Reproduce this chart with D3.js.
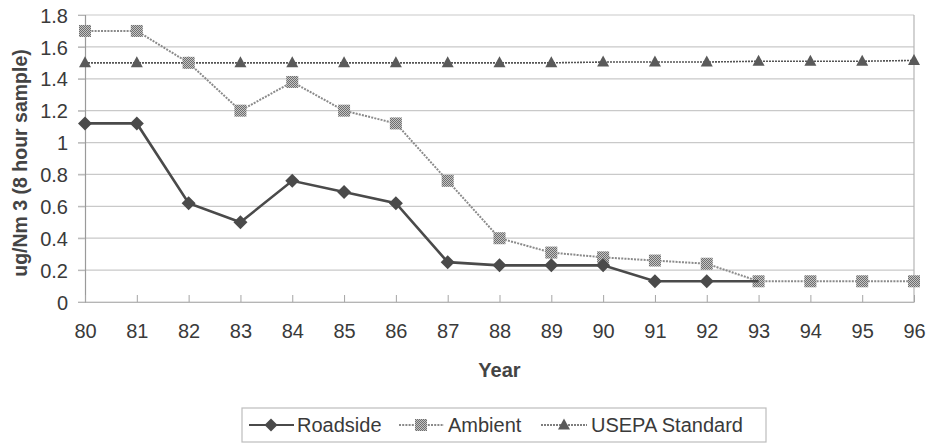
<!DOCTYPE html>
<html>
<head>
<meta charset="utf-8">
<script src="https://cdn.jsdelivr.net/npm/d3@7"></script>
<style>
  html, body { margin: 0; padding: 0; background: #fff; }
  svg { display: block; font-family: Arial, "Liberation Sans", sans-serif; }
</style>
</head>
<body>
<svg id="chart" width="932" height="443"></svg>
<script>
// Lead concentrations by year (ug/Nm3, 8 hour sample)
const years = [80, 81, 82, 83, 84, 85, 86, 87, 88, 89, 90, 91, 92, 93, 94, 95, 96];
const roadside = [1.12, 1.12, 0.62, 0.50, 0.76, 0.69, 0.62, 0.25, 0.23, 0.23, 0.23, 0.13, 0.13, 0.13];
const ambient = [1.70, 1.70, 1.50, 1.20, 1.38, 1.20, 1.12, 0.76, 0.40, 0.31, 0.28, 0.26, 0.24, 0.13, 0.13, 0.13, 0.13];
const usepa = [1.50, 1.50, 1.50, 1.50, 1.50, 1.50, 1.50, 1.50, 1.50, 1.50, 1.505, 1.505, 1.505, 1.51, 1.51, 1.51, 1.515];
const yTicks = [0, 0.2, 0.4, 0.6, 0.8, 1, 1.2, 1.4, 1.6, 1.8];
const seriesNames = ["Roadside", "Ambient", "USEPA Standard"];

const FONT = "Arial, 'Liberation Sans', sans-serif";
const svg = d3.select("#chart");
const margin = { left: 85, right: 18, top: 15, bottom: 141 };
const W = 932, H = 443;
const x0 = margin.left, x1 = W - margin.right;
const y0 = H - margin.bottom, y1 = margin.top;

const x = d3.scaleLinear().domain([80, 96]).range([x0, x1]);
const y = d3.scaleLinear().domain([0, 1.8]).range([y0, y1]);

// Checkered fill used by the Ambient markers
const defs = svg.append("defs");
const pat = defs.append("pattern").attr("id", "checker")
  .attr("width", 2).attr("height", 2).attr("patternUnits", "userSpaceOnUse");
pat.append("rect").attr("width", 2).attr("height", 2).attr("fill", "#c4c4c4");
pat.append("rect").attr("width", 1).attr("height", 1).attr("fill", "#6e6e6e");
pat.append("rect").attr("x", 1).attr("y", 1).attr("width", 1).attr("height", 1).attr("fill", "#6e6e6e");

// Horizontal gridlines (extend left as outside ticks)
svg.append("g").selectAll("line").data(yTicks).join("line")
  .attr("x1", x0 - 7).attr("x2", x1)
  .attr("y1", d => y(d)).attr("y2", d => y(d))
  .attr("stroke", "#c9c9c9").attr("stroke-width", 1.2);

// Plot frame: right border
svg.append("line").attr("x1", x1).attr("x2", x1).attr("y1", y1).attr("y2", y0)
  .attr("stroke", "#b5b5b5").attr("stroke-width", 1.2);

// Y axis
const yAxis = d3.axisLeft(y).tickValues(yTicks).tickSize(7).tickPadding(10)
  .tickFormat(d => d3.format("~g")(d));
const gy = svg.append("g").attr("transform", `translate(${x0},0)`).call(yAxis);
gy.attr("font-size", null).attr("font-family", null);
gy.select(".domain").attr("stroke", "#9a9a9a").attr("stroke-width", 1.2);
gy.selectAll(".tick line").attr("stroke", "#b5b5b5");
gy.selectAll(".tick text").attr("font-size", 20).attr("fill", "#3a3a3a")
  .attr("font-family", FONT).attr("dy", "0.36em");

// X axis: ticks point inward (upward)
const xAxis = d3.axisBottom(x).tickValues(years).tickSize(0).tickPadding(0).tickFormat(d3.format("d"));
const gx = svg.append("g").attr("transform", `translate(0,${y0})`).call(xAxis);
gx.attr("font-size", null).attr("font-family", null);
gx.select(".domain").attr("stroke", "#b5b5b5").attr("stroke-width", 1.2);
gx.selectAll(".tick line").attr("y2", -7).attr("stroke", "#a5a5a5");
gx.selectAll(".tick text").attr("font-size", 20).attr("fill", "#3a3a3a")
  .attr("y", 36).attr("dy", null).attr("font-family", FONT);

// Axis titles
svg.append("text").attr("x", (x0 + x1) / 2).attr("y", 377).attr("text-anchor", "middle")
  .attr("font-size", 20).attr("font-weight", "bold").attr("fill", "#444").text("Year");
svg.append("text").attr("transform", `translate(27,163) rotate(-90)`)
  .attr("text-anchor", "middle").attr("font-size", 19.5).attr("font-weight", "bold")
  .attr("fill", "#444").text("ug/Nm 3 (8 hour sample)");

const line = d3.line().x((d, i) => x(years[i])).y(d => y(d));

// Marker shapes
const diamondPath = r => `M0,${-r}L${r},0L0,${r}L${-r},0Z`;
const trianglePath = (w, h) => `M0,${-h / 2}L${w / 2},${h / 2}L${-w / 2},${h / 2}Z`;

// USEPA Standard
svg.append("path").datum(usepa).attr("d", line).attr("fill", "none")
  .attr("stroke", "#555").attr("stroke-width", 1.6).attr("stroke-dasharray", "2,1");
svg.append("g").selectAll("path").data(usepa).join("path")
  .attr("d", trianglePath(12, 11))
  .attr("transform", (d, i) => `translate(${x(years[i])},${y(d) - 1})`)
  .attr("fill", "#5a5a5a");

// Ambient
svg.append("path").datum(ambient).attr("d", line).attr("fill", "none")
  .attr("stroke", "#8a8a8a").attr("stroke-width", 2).attr("stroke-dasharray", "2,1.2");
svg.append("g").selectAll("rect").data(ambient).join("rect")
  .attr("x", (d, i) => x(years[i]) - 6).attr("y", d => y(d) - 6)
  .attr("width", 12).attr("height", 12).attr("fill", "url(#checker)");

// Roadside
svg.append("path").datum(roadside).attr("d", line).attr("fill", "none")
  .attr("stroke", "#4a4a4a").attr("stroke-width", 2.6);
svg.append("g").selectAll("path").data(roadside.slice(0, 13)).join("path")
  .attr("d", diamondPath(7))
  .attr("transform", (d, i) => `translate(${x(years[i])},${y(d)})`)
  .attr("fill", "#4a4a4a");

// Legend
const lg = svg.append("g");
lg.append("rect").attr("x", 242).attr("y", 408).attr("width", 524).attr("height", 34)
  .attr("fill", "#fff").attr("stroke", "#bdbdbd").attr("stroke-width", 1.2);
const ly = 425;
// Roadside sample
lg.append("line").attr("x1", 249).attr("x2", 294).attr("y1", ly).attr("y2", ly)
  .attr("stroke", "#4a4a4a").attr("stroke-width", 2.2);
lg.append("path").attr("d", diamondPath(6.5)).attr("transform", `translate(271,${ly})`).attr("fill", "#4a4a4a");
// Ambient sample
lg.append("line").attr("x1", 399).attr("x2", 444).attr("y1", ly).attr("y2", ly)
  .attr("stroke", "#8a8a8a").attr("stroke-width", 1.8).attr("stroke-dasharray", "2,1.2");
lg.append("rect").attr("x", 415).attr("y", ly - 6).attr("width", 12).attr("height", 12)
  .attr("fill", "url(#checker)");
// USEPA sample
lg.append("line").attr("x1", 541).attr("x2", 587).attr("y1", ly).attr("y2", ly)
  .attr("stroke", "#555").attr("stroke-width", 1.6).attr("stroke-dasharray", "2,1");
lg.append("path").attr("d", trianglePath(12, 11)).attr("transform", `translate(564,${ly - 1})`).attr("fill", "#5a5a5a");

lg.selectAll("text.lab").data([
  { t: seriesNames[0], x: 297 }, { t: seriesNames[1], x: 448 }, { t: seriesNames[2], x: 591 }
]).join("text").attr("class", "lab")
  .attr("x", d => d.x).attr("y", ly + 7).attr("font-size", 20).attr("fill", "#3a3a3a")
  .attr("font-family", FONT)
  .text(d => d.t);
</script>
</body>
</html>
